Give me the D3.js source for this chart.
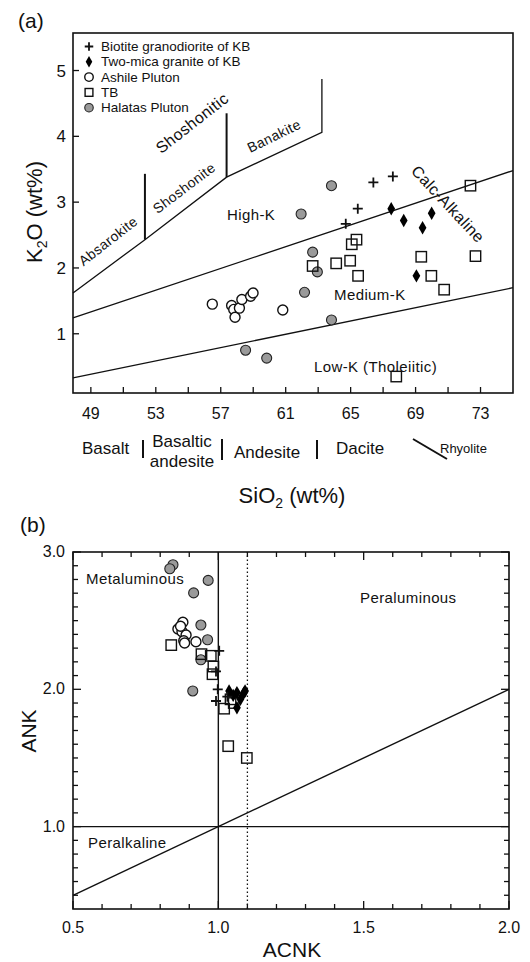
<!DOCTYPE html>
<html><head><meta charset="utf-8">
<script src="https://cdn.jsdelivr.net/npm/d3@7"></script>
<style>body{margin:0;background:#fff}text{font-family:"Liberation Sans",Arial,sans-serif;fill:#111}</style>
</head><body>
<script>
// ---------- Panel (a) data: SiO2 vs K2O ----------
const biotiteA = [[66.4,3.30],[67.6,3.39],[65.44,2.90],[64.7,2.67]];
const twoMicaA = [[67.5,2.90],[68.27,2.72],[69.99,2.83],[69.43,2.61],[69.05,1.88]];
const ashileA = [[56.48,1.45],[57.67,1.43],[57.8,1.37],[57.88,1.25],[58.15,1.39],[58.3,1.52],[58.84,1.57],[58.99,1.62],[60.82,1.36]];
const tbA = [[72.38,3.25],[72.69,2.18],[65.36,2.43],[65.07,2.36],[62.66,2.03],[64.11,2.07],[64.97,2.11],[65.46,1.88],[69.35,2.17],[69.97,1.88],[70.76,1.67],[67.81,0.35]];
const halatasA = [[63.82,3.25],[61.95,2.82],[62.66,2.24],[62.95,1.94],[62.16,1.63],[63.82,1.21],[58.53,0.75],[59.83,0.63]];
const xTicksA = [49,51,53,55,57,59,61,63,65,67,69,71,73];
const xLabelsA = [49,53,57,61,65,69,73];
const yTicksA = [1,2,3,4,5];
// boundary lines (SiO2, K2O)
const shoshoniteLine = [[47.9,1.62],[52.33,2.43],[57.36,3.38],[63.23,4.06],[63.23,4.87]];
const vLine1 = [[52.33,2.43],[52.33,3.43]];
const vLine2 = [[57.36,3.38],[57.36,4.35]];
const highKLine = [[47.9,1.24],[75.0,3.48]];
const lowKLine = [[47.9,0.33],[75.0,1.70]];

// ---------- Panel (b) data: ACNK vs ANK ----------
const biotiteB = [[1.003,2.28],[0.992,2.13],[0.998,2.00],[0.992,1.915],[1.031,1.946]];
const twoMicaB = [[1.037,1.988],[1.064,1.976],[1.087,1.971],[1.076,1.927],[1.064,1.866],[1.092,1.988],[1.051,1.956]];
const ashileB = [[0.878,2.488],[0.861,2.439],[0.875,2.42],[0.889,2.395],[0.881,2.354],[0.923,2.346],[0.884,2.337],[0.870,2.459]];
const tbB = [[0.838,2.322],[0.942,2.256],[0.974,2.244],[0.983,2.166],[0.980,2.11],[1.02,1.859],[1.053,1.90],[1.042,1.927],[1.034,1.586],[1.098,1.50]];
const halatasB = [[0.844,2.907],[0.833,2.878],[0.965,2.793],[0.915,2.702],[0.940,2.468],[0.963,2.361],[0.940,2.215],[0.912,1.988]];
const xLabelsB = [0.5,1.0,1.5,2.0];
const yLabelsB = [1.0,2.0,3.0];

const legendNames = ["Biotite granodiorite of KB","Two-mica granite of KB","Ashile Pluton","TB","Halatas Pluton"];
const legendTypes = ["cross","diamond","circle","square","gray"];

const svg = d3.select("body").append("svg").attr("width",530).attr("height",962);

function drawMarker(g, type, x, y, s){
  s = s || 1;
  if(type==="cross"){
    g.append("path").attr("d",`M${x-5*s},${y}H${x+5*s}M${x},${y-5*s}V${y+5*s}`)
      .attr("stroke","#111").attr("stroke-width",1.8).attr("fill","none");
  } else if(type==="diamond"){
    g.append("path").attr("d",d3.symbol(d3.symbolDiamond, 52*s*s)()).attr("transform",`translate(${x},${y})`).attr("fill","#000");
  } else if(type==="circle"){
    g.append("circle").attr("cx",x).attr("cy",y).attr("r",5*s).attr("fill","#fff").attr("stroke","#111").attr("stroke-width",1.4);
  } else if(type==="square"){
    g.append("rect").attr("x",x-5.2*s).attr("y",y-5.2*s).attr("width",10.4*s).attr("height",10.4*s).attr("fill","none").attr("stroke","#111").attr("stroke-width",1.4);
  } else if(type==="gray"){
    g.append("circle").attr("cx",x).attr("cy",y).attr("r",5*s).attr("fill","#9a9a9a").attr("stroke","#222").attr("stroke-width",1.1);
  }
}

// ================= Panel (a) =================
const ax = d3.scaleLinear().domain([47.9,75.0]).range([73,513]);
const ay = d3.scaleLinear().domain([0.1,5.57]).range([393,33]);
const ga = svg.append("g");
const line = (xs,ys)=>d3.line().x(d=>xs(d[0])).y(d=>ys(d[1]));
const lnA = line(ax,ay);

[shoshoniteLine,highKLine,lowKLine].forEach(l=>ga.append("path").attr("d",lnA(l)).attr("fill","none").attr("stroke","#111").attr("stroke-width",1.3));
[vLine1,vLine2].forEach(l=>ga.append("path").attr("d",lnA(l)).attr("fill","none").attr("stroke","#111").attr("stroke-width",2));

// ticks
xTicksA.forEach(t=>ga.append("line").attr("x1",ax(t)).attr("x2",ax(t)).attr("y1",393).attr("y2",387).attr("stroke","#111").attr("stroke-width",1.3));
xLabelsA.forEach(t=>ga.append("text").attr("x",ax(t)).attr("y",419).attr("text-anchor","middle").attr("font-size",16).text(t));
yTicksA.forEach(t=>{
  ga.append("line").attr("x1",73).attr("x2",79).attr("y1",ay(t)).attr("y2",ay(t)).attr("stroke","#111").attr("stroke-width",1.3);
  ga.append("text").attr("x",66).attr("y",ay(t)+6).attr("text-anchor","end").attr("font-size",17).text(t);
});
ga.append("rect").attr("x",73).attr("y",33).attr("width",440).attr("height",360).attr("fill","none").attr("stroke","#111").attr("stroke-width",1.6);

// markers
const ma = ga.append("g");
halatasA.forEach(d=>drawMarker(ma,"gray",ax(d[0]),ay(d[1])));
ashileA.forEach(d=>drawMarker(ma,"circle",ax(d[0]),ay(d[1])));
tbA.forEach(d=>drawMarker(ma,"square",ax(d[0]),ay(d[1])));
twoMicaA.forEach(d=>drawMarker(ma,"diamond",ax(d[0]),ay(d[1])));
biotiteA.forEach(d=>drawMarker(ma,"cross",ax(d[0]),ay(d[1])));

// legend
legendNames.forEach((n,i)=>{
  const y = 46.5 + i*15.3;
  drawMarker(ga, legendTypes[i], 89, y, legendTypes[i]==="square"?0.75:0.85);
  ga.append("text").attr("x",101).attr("y",y+4.5).attr("font-size",13.5).text(n);
});

// region labels
function rtext(g,txt,x,y,ang,size){
  g.append("text").attr("transform",`translate(${x},${y}) rotate(${ang})`).attr("text-anchor","middle").attr("dy","0.35em").attr("font-size",size).attr("letter-spacing",0.4).text(txt);
}
rtext(ga,"Absarokite",108,241,-38,14);
rtext(ga,"Shoshonite",184,188,-37,14);
rtext(ga,"Shoshonitic",192,123,-38,16);
rtext(ga,"Banakite",274,136,-26,14);
rtext(ga,"Calc-Alkaline",448,204,47,16);
ga.append("text").attr("x",227).attr("y",220).attr("font-size",15).attr("letter-spacing",0.4).text("High-K");
ga.append("text").attr("x",334).attr("y",300).attr("font-size",15).attr("letter-spacing",0.4).text("Medium-K");
ga.append("text").attr("x",314).attr("y",372).attr("font-size",15).attr("letter-spacing",0.4).text("Low-K (Tholeiitic)");

// rock names below axis
const rn = ga.append("g").attr("font-size",17);
rn.append("text").attr("x",82).attr("y",454).attr("font-size",17).text("Basalt");
rn.append("text").attr("x",182).attr("y",447).attr("text-anchor","middle").attr("font-size",17).text("Basaltic");
rn.append("text").attr("x",182).attr("y",467).attr("text-anchor","middle").attr("font-size",17).text("andesite");
rn.append("text").attr("x",234).attr("y",458).attr("font-size",17).text("Andesite");
rn.append("text").attr("x",336).attr("y",454).attr("font-size",17).text("Dacite");
rn.append("text").attr("x",440).attr("y",453).attr("font-size",13).text("Rhyolite");
[[143,440,143,458],[222,439,222,460],[317,440,317,459],[413,439,447,459]].forEach(l=>
  rn.append("line").attr("x1",l[0]).attr("y1",l[1]).attr("x2",l[2]).attr("y2",l[3]).attr("stroke","#111").attr("stroke-width",2));

// axis titles
const t1 = ga.append("text").attr("x",292).attr("y",503).attr("text-anchor","middle").attr("font-size",22);
t1.append("tspan").text("SiO");
t1.append("tspan").attr("font-size",14).attr("dy",5).text("2");
t1.append("tspan").attr("dy",-5).text(" (wt%)");
const t2 = ga.append("text").attr("transform","translate(42,212) rotate(-90)").attr("text-anchor","middle").attr("font-size",22);
t2.append("tspan").text("K");
t2.append("tspan").attr("font-size",14).attr("dy",5).text("2");
t2.append("tspan").attr("dy",-5).text("O (wt%)");
svg.append("text").attr("x",18).attr("y",28).attr("font-size",21).text("(a)");

// ================= Panel (b) =================
const bx = d3.scaleLinear().domain([0.5,2.0]).range([73,509]);
const by = d3.scaleLinear().domain([0.4,3.0]).range([909,552]);
const gb = svg.append("g");
const lnB = line(bx,by);
gb.append("path").attr("d",lnB([[1.0,0.4],[1.0,3.0]])).attr("stroke","#111").attr("stroke-width",1.4);
gb.append("path").attr("d",lnB([[1.1,0.4],[1.1,3.0]])).attr("stroke","#111").attr("stroke-width",1.3).attr("stroke-dasharray","1.5,2.5");
gb.append("path").attr("d",lnB([[0.5,1.0],[2.0,1.0]])).attr("stroke","#111").attr("stroke-width",1.4);
gb.append("path").attr("d",lnB([[0.5,0.5],[2.0,2.0]])).attr("stroke","#111").attr("stroke-width",1.4);

const xtB = d3.range(0,16).map(i=>+(0.5+i*0.1).toFixed(1));
xtB.forEach(t=>{
  const len = (Math.round(t*10)%5===0)?8:5;
  gb.append("line").attr("x1",bx(t)).attr("x2",bx(t)).attr("y1",909).attr("y2",909-len).attr("stroke","#111").attr("stroke-width",1.3);
  gb.append("line").attr("x1",bx(t)).attr("x2",bx(t)).attr("y1",552).attr("y2",552+len).attr("stroke","#111").attr("stroke-width",1.3);
});
const ytB = d3.range(0,26).map(i=>+(0.5+i*0.1).toFixed(1));
ytB.forEach(t=>{
  const len = (Math.round(t*10)%10===0)?8:5;
  gb.append("line").attr("x1",73).attr("x2",73+len).attr("y1",by(t)).attr("y2",by(t)).attr("stroke","#111").attr("stroke-width",1.3);
  gb.append("line").attr("x1",509).attr("x2",509-len).attr("y1",by(t)).attr("y2",by(t)).attr("stroke","#111").attr("stroke-width",1.3);
});
xLabelsB.forEach(t=>gb.append("text").attr("x",bx(t)).attr("y",933).attr("text-anchor","middle").attr("font-size",16).text(t.toFixed(1)));
yLabelsB.forEach(t=>gb.append("text").attr("x",65).attr("y",by(t)+5).attr("text-anchor","end").attr("font-size",16).text(t.toFixed(1)));
gb.append("rect").attr("x",73).attr("y",552).attr("width",436).attr("height",357).attr("fill","none").attr("stroke","#111").attr("stroke-width",1.6);

gb.append("text").attr("x",86).attr("y",584).attr("font-size",15).attr("letter-spacing",0.4).text("Metaluminous");
gb.append("text").attr("x",360).attr("y",603).attr("font-size",15).attr("letter-spacing",0.4).text("Peraluminous");
gb.append("text").attr("x",88).attr("y",848).attr("font-size",15).attr("letter-spacing",0.4).text("Peralkaline");

const mb = gb.append("g");
halatasB.forEach(d=>drawMarker(mb,"gray",bx(d[0]),by(d[1])));
ashileB.forEach(d=>drawMarker(mb,"circle",bx(d[0]),by(d[1])));
tbB.forEach(d=>drawMarker(mb,"square",bx(d[0]),by(d[1])));
twoMicaB.forEach(d=>drawMarker(mb,"diamond",bx(d[0]),by(d[1])));
biotiteB.forEach(d=>drawMarker(mb,"cross",bx(d[0]),by(d[1])));

svg.append("text").attr("x",292).attr("y",957).attr("text-anchor","middle").attr("font-size",21).text("ACNK");
svg.append("text").attr("transform","translate(36,731) rotate(-90)").attr("text-anchor","middle").attr("font-size",21).text("ANK");
svg.append("text").attr("x",20).attr("y",532).attr("font-size",21).text("(b)");
</script>
</body></html>
